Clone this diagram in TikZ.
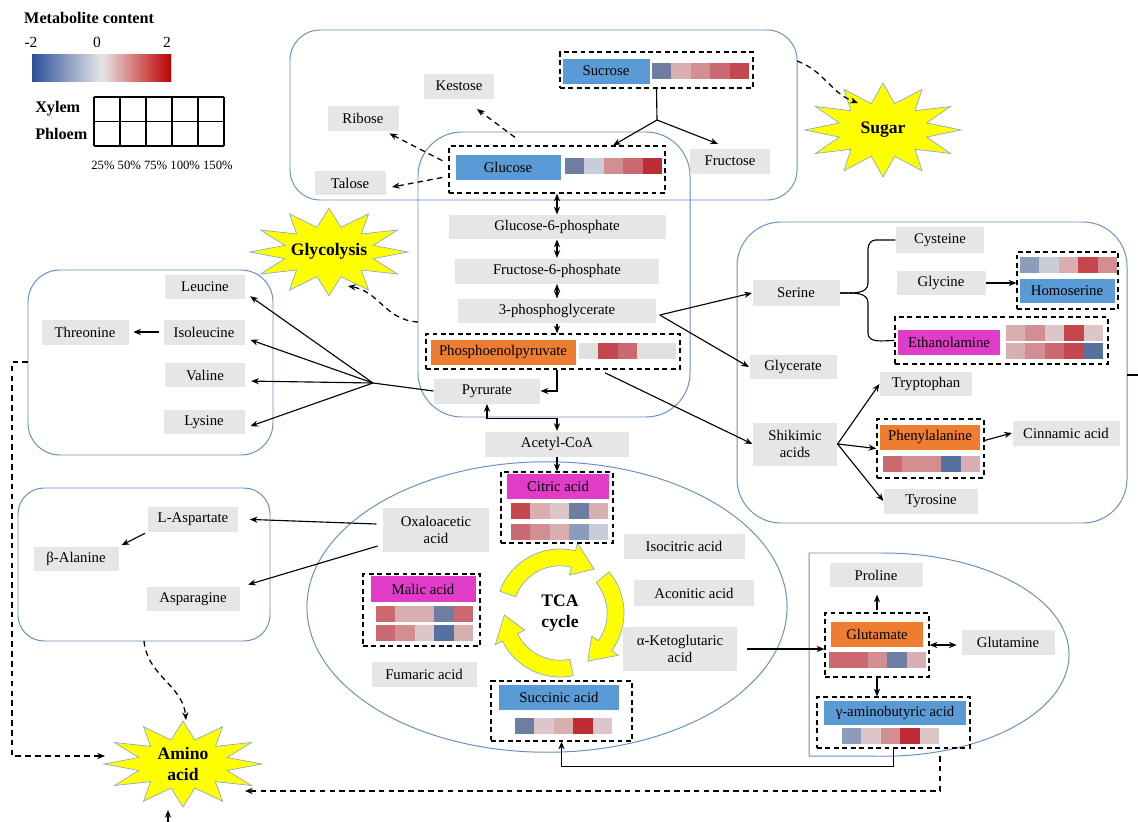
\documentclass[tikz,border=0pt]{standalone}
\usepackage{fontspec}
\setmainfont{Liberation Serif}
\usetikzlibrary{arrows.meta,calc}

\definecolor{boxgray}{HTML}{E7E6E6}
\definecolor{cblue}{HTML}{5B9BD5}
\definecolor{corange}{HTML}{ED7D31}
\definecolor{cmagenta}{HTML}{E03CC8}
\definecolor{regionline}{HTML}{6A8FC0}
\definecolor{burstyellow}{HTML}{FFFF00}
\definecolor{burstline}{HTML}{8EA8CF}
\definecolor{hmlow}{HTML}{2E4F9B}
\definecolor{hmzero}{HTML}{E6E6E6}
\definecolor{hmhigh}{HTML}{C00000}
\definecolor{hmA}{HTML}{BE2C33}
\definecolor{hmB}{HTML}{C3474D}
\definecolor{hmC}{HTML}{CA6A70}
\definecolor{hmD}{HTML}{D38E92}
\definecolor{hmE}{HTML}{D9AEB1}
\definecolor{hmF}{HTML}{DDC6C9}
\definecolor{hmG}{HTML}{E0E0E0}
\definecolor{hmH}{HTML}{C8CDD9}
\definecolor{hmI}{HTML}{8C9CBA}
\definecolor{hmJ}{HTML}{6E7DA2}
\definecolor{hmK}{HTML}{56709F}

\newcommand{\metfont}{\fontsize{10.5}{12.5}\selectfont}
\newcommand{\burstfont}{\fontsize{12.5}{15}\selectfont\bfseries}
\newcommand{\titlefont}{\fontsize{11.5}{13}\selectfont\bfseries}

% star burst: centre, x radius, y radius
\newcommand{\burst}[3]{%
  \filldraw[burst, shift={#1}] (#2,0)
    \foreach \k in {1,...,23}{
      -- ({#2*(1-0.42*mod(\k,2))*cos(\k*15)},{#3*(1-0.42*mod(\k,2))*sin(\k*15)}) } -- cycle;}
% one row of heat cells: x, y (top left), colours
\newcommand{\hmrow}[3]{%
  \foreach \c [count=\i from 0] in {#3}
    \fill[\c] ({#1+\i*19.4},#2) rectangle ++(19.4,16);}
% curved arrow of the TCA ring: start angle, tip angle
\newcommand{\tcaarrow}[2]{%
  \filldraw[ring] (#1:1.6cm) arc[start angle=#1, end angle=#2+24, radius=1.6cm]
    -- (#2+24:1.8cm) -- (#2:1.39cm) -- (#2+24:0.98cm) -- (#2+24:1.18cm)
    arc[start angle=#2+24, end angle=#1, radius=1.18cm] -- cycle;}

\begin{document}
\begin{tikzpicture}[x=0.025cm, y=-0.025cm, line width=0.8pt,
    >={Stealth[length=5.5pt,width=4.4pt]},
    met/.style={fill=boxgray, inner sep=1pt, font=\metfont, align=center},
    hiblue/.style={fill=cblue}, hiorange/.style={fill=corange}, himag/.style={fill=cmagenta},
    wpx/.style={minimum width={#1*0.025cm}},
    hpx/.style={minimum height={#1*0.025cm}},
    grp/.style={draw, dash pattern=on 3.5pt off 2.5pt, line width=0.9pt, inner sep=0pt},
    region/.style={draw=regionline, line width=0.7pt},
    dasharrow/.style={->, dash pattern=on 4pt off 3pt, line width=0.9pt},
    burst/.style={fill=burstyellow, draw=burstline, line width=0.5pt},
    ring/.style={fill=burstyellow, draw=burstline, line width=0.5pt},
    burstlabel/.style={font=\burstfont, align=center}]
\useasboundingbox (0,0) rectangle (1138,822);

% regions
\draw[region, rounded corners=0.75cm] (290,30) rectangle (797,200);
\draw[region, rounded corners=1.1cm] (418,132) rectangle (690,417);
\draw[region, rounded corners=1.1cm] (737,222) rectangle (1127,523);
\draw[region, rounded corners=0.8cm] (28,270) rectangle (273,455);
\draw[region, rounded corners=0.65cm] (18,488) rectangle (270,641);
\draw[region] (547,607) ellipse [x radius=6cm, y radius=3.63cm];
\draw[region] (883,553) arc[start angle=90, end angle=-90, x radius=4.65cm, y radius=2.54cm]
  -- (809,756) -- (809,553) -- cycle;

% bursts
\burst{(883,130)}{78}{47}
\burst{(329,252)}{79}{44}
\burst{(183,764)}{79}{43}
\node[burstlabel] (sugar) at (883,130) {Sugar};
\node[burstlabel] (glycolysis) at (329,251) {Glycolysis};
\node[burstlabel] (amino) at (183,764) {Amino\\acid};

% legend
\node[font=\titlefont, anchor=west] (legend-title) at (19,18) {Metabolite content};
\node[font=\fontsize{11}{13}\selectfont] (scale-min) at (31,42) {-2};
\node[font=\fontsize{11}{13}\selectfont] (scale-mid) at (97,42) {0};
\node[font=\fontsize{11}{13}\selectfont] (scale-max) at (167,42) {2};
\shade[left color=hmlow, right color=hmhigh, middle color=hmzero] (32,54) rectangle (171,81);
\node[font=\titlefont, anchor=west] (xylem) at (30,109) {Xylem};
\node[font=\titlefont, anchor=west] (phloem) at (30,134) {Phloem};
\foreach \i in {0,...,5} \draw (94+\i*26,97) -- (94+\i*26,146);
\foreach \j in {97,121.5,146} \draw (94,\j) -- (224,\j);
\node[font=\fontsize{9}{11}\selectfont] (pct) at (162,165) {25\% 50\% 75\% 100\% 150\%};

% sugars
\node[met, hiblue, wpx=87, hpx=25] (sucrose) at (606,71) {Sucrose};
\node[met, hiblue, wpx=105, hpx=25] (glucose) at (508,167) {Glucose};
\node[met, wpx=70, hpx=25] (kestose) at (459,86) {Kestose};
\node[met, wpx=71, hpx=25] (ribose) at (363,118) {Ribose};
\node[met, wpx=71, hpx=24] (talose) at (350,183) {Talose};
\node[met, wpx=80, hpx=25] (fructose) at (730,161) {Fructose};
\node[grp, wpx=193, hpx=36] (sucrose-grp) at (656.5,70) {};
\node[grp, wpx=216, hpx=47] (glucose-grp) at (557,169.5) {};
\hmrow{652}{63}{hmJ,hmE,hmD,hmC,hmB}
\hmrow{565}{158}{hmJ,hmH,hmD,hmC,hmA}

% glycolysis
\node[met, wpx=217, hpx=24] (g6p) at (557,227) {Glucose-6-phosphate};
\node[met, wpx=204, hpx=25] (f6p) at (557,271) {Fructose-6-phosphate};
\node[met, wpx=198, hpx=24] (pga) at (557,311) {3-phosphoglycerate};
\node[met, hiorange, wpx=145, hpx=25] (pep) at (503,352) {Phosphoenolpyruvate};
\node[grp, wpx=254, hpx=35] (pep-grp) at (553,351.5) {};
\hmrow{579}{343}{hmG,hmB,hmC,hmG,hmG}
\node[met, wpx=106, hpx=25] (pyr) at (487,391) {Pyrurate};
\node[met, wpx=144, hpx=25] (acoa) at (557,444) {Acetyl-CoA};

% branched chain amino acids
\node[met, wpx=80, hpx=24] (leucine) at (205,287) {Leucine};
\node[met, wpx=81, hpx=25] (isoleucine) at (204,332) {Isoleucine};
\node[met, wpx=87, hpx=25] (threonine) at (85,332) {Threonine};
\node[met, wpx=80, hpx=24] (valine) at (205,375) {Valine};
\node[met, wpx=81, hpx=24] (lysine) at (204,422) {Lysine};

% aspartate family
\node[met, wpx=90, hpx=25] (lasp) at (193,519) {L-Aspartate};
\node[met, wpx=85, hpx=24] (balan) at (76,559) {β-Alanine};
\node[met, wpx=93, hpx=24] (aspar) at (193,599) {Asparagine};

% TCA cycle
\begin{scope}[shift={(560,613)}]
  \tcaarrow{160}{52}
  \tcaarrow{40}{-60}
  \tcaarrow{-78}{-178}
\end{scope}
\node[burstlabel] (tca) at (560,613) {TCA\\cycle};
\node[met, himag, wpx=102, hpx=25] (citric) at (558,486) {Citric acid};
\node[grp, wpx=112, hpx=71] (citric-grp) at (557,507.5) {};
\hmrow{511}{503}{hmB,hmE,hmF,hmJ,hmE}
\hmrow{511}{524}{hmC,hmD,hmE,hmI,hmH}
\node[met, wpx=106, hpx=44] (oaa) at (436,530) {Oxaloacetic\\acid};
\node[met, wpx=121, hpx=25] (iso) at (684,546) {Isocitric acid};
\node[met, wpx=120, hpx=26] (aco) at (694,593) {Aconitic acid};
\node[met, wpx=114, hpx=44] (akg) at (680,649) {α-Ketoglutaric\\acid};
\node[met, himag, wpx=105, hpx=26] (malic) at (423,589) {Malic acid};
\node[grp, wpx=117, hpx=72] (malic-grp) at (421.5,610) {};
\hmrow{376}{606}{hmC,hmE,hmE,hmJ,hmC}
\hmrow{376}{625}{hmC,hmD,hmF,hmK,hmE}
\node[met, wpx=105, hpx=25] (fum) at (424,674) {Fumaric acid};
\node[met, hiblue, wpx=120, hpx=25] (succ) at (559,697) {Succinic acid};
\node[grp, wpx=141, hpx=60] (succinic-grp) at (561.5,711) {};
\hmrow{515}{718}{hmJ,hmF,hmE,hmA,hmF}

% glutamate family
\node[met, wpx=93, hpx=24] (proline) at (876,575) {Proline};
\node[met, hiorange, wpx=92, hpx=25] (glutamate) at (877,634) {Glutamate};
\node[grp, wpx=104, hpx=64] (glutamate-grp) at (877,645) {};
\hmrow{829}{652}{hmC,hmC,hmD,hmJ,hmE}
\node[met, wpx=93, hpx=25] (glutamine) at (1008,642) {Glutamine};
\node[met, hiblue, wpx=142, hpx=24] (gaba) at (895,713) {γ-aminobutyric acid};
\node[grp, wpx=153, hpx=51] (gaba-grp) at (893.5,722.5) {};
\hmrow{842}{728}{hmI,hmF,hmD,hmA,hmF}

% serine and shikimate
\node[met, wpx=87, hpx=26] (serine) at (796,293) {Serine};
\node[met, wpx=88, hpx=26] (cysteine) at (940,240) {Cysteine};
\node[met, wpx=89, hpx=24] (glycine) at (941,283) {Glycine};
\node[met, hiblue, wpx=95, hpx=24] (homoserine) at (1067,291) {Homoserine};
\node[grp, wpx=101, hpx=57] (homoserine-grp) at (1067.5,280.5) {};
\hmrow{1020}{257}{hmI,hmH,hmE,hmB,hmD}
\node[met, himag, wpx=102, hpx=25] (ethanolamine) at (949,342) {Ethanolamine};
\node[grp, wpx=213, hpx=47] (ethanolamine-grp) at (1001.5,340.5) {};
\hmrow{1006}{325}{hmE,hmD,hmF,hmB,hmF}
\hmrow{1006}{343}{hmE,hmD,hmC,hmB,hmK}
\node[met, wpx=87, hpx=24] (glycerate) at (793,367) {Glycerate};
\node[met, wpx=84, hpx=43] (shikimic) at (795,444) {Shikimic\\acids};
\node[met, wpx=92, hpx=24] (tryptophan) at (926,384) {Tryptophan};
\node[met, hiorange, wpx=100, hpx=25] (phenylalanine) at (930,437) {Phenylalanine};
\node[grp, wpx=107, hpx=59] (phenylalanine-grp) at (930.5,448.5) {};
\hmrow{883}{456}{hmC,hmD,hmD,hmK,hmE}
\node[met, wpx=107, hpx=25] (cinnamic) at (1066,433) {Cinnamic acid};
\node[met, wpx=94, hpx=25] (tyrosine) at (931,501) {Tyrosine};

% connectors: sugars
\coordinate (sugar-split) at (657,120);
\draw (sucrose-grp.south) -- (sugar-split);
\draw[->] (sugar-split) -- ([xshift=1.4cm]glucose-grp.north);
\draw[->] (sugar-split) -- ([xshift=-0.3cm,yshift=0.1cm]fructose.north);
\draw[dasharrow] ([xshift=-1.05cm,yshift=0.2cm]glucose-grp.north) -- ([xshift=0.45cm,yshift=-0.25cm]kestose.south);
\draw[dasharrow] ([xshift=-0.15cm,yshift=0.22cm]glucose-grp.west) -- ([xshift=-0.24cm,yshift=-0.06cm]ribose.south east);
\draw[dasharrow] ([xshift=-0.15cm,yshift=-0.2cm]glucose-grp.west) -- ([xshift=0.15cm,yshift=-0.1cm]talose.east);
\coordinate (sugar-box-e) at (797,61);
\draw[dasharrow] (sugar-box-e) to[out=-20,in=160] ($(sugar)+(-25,-27)$);

% connectors: glycolysis
\draw[<->] (glucose-grp.south) -- (glucose-grp.south |- g6p.north);
\draw[<->] (g6p.south) -- (f6p.north);
\draw[<->] (f6p.south) -- (pga.north);
\draw[->] (pga.south) -- (pga.south |- pep-grp.north);
\draw[->] (pga.south |- pep-grp.south) |- (pyr.east);
\draw[<->] (pyr.south) -- ++(0,14) -| (acoa.north);
\draw[->] (acoa.south) -- (acoa.south |- citric-grp.north);
\coordinate (glyc-box-w) at (418,322);
\draw[dasharrow] (glyc-box-w) .. controls (385,320) and (380,292) .. ($(glycolysis)+(19,35)$);
\draw[->] ([xshift=0.08cm,yshift=-0.1cm]pga.east) -- (serine.west);
\draw[->] ([xshift=0.08cm,yshift=-0.1cm]pga.east) -- (glycerate.west);
\draw[->] ([xshift=1.3cm,yshift=-0.08cm]pep-grp.south) -- (shikimic.west);

% connectors: amino acids
\coordinate (aa-fork) at (373,383);
\draw (pyr.west) -- (aa-fork);
\foreach \t in {leucine,isoleucine,valine,lysine}
  \draw[->, shorten >=4pt] (aa-fork) -- ([yshift=-0.15cm]\t.east);
\draw[->, shorten <=3pt, shorten >=3pt] (isoleucine.west) -- (threonine.east);
\coordinate (aa-box-w) at (28,362);
\draw[dasharrow] (aa-box-w) -- ++(-16,0) |- ($(amino)+(-78,-8)$);
\draw[->, shorten >=8pt] ([xshift=-0.15cm,yshift=0.15cm]oaa.west) -- (lasp.east);
\draw[->, shorten >=6pt] ([xshift=-0.12cm,yshift=-0.4cm]oaa.west) -- ([yshift=0.3cm]aspar.east);
\draw[->, shorten <=2pt, shorten >=2pt] (lasp.south west) -- (balan.north east);
\coordinate (asp-box-s) at (144,641);
\draw[dasharrow] (asp-box-s) to[out=-85,in=95] ($(amino)+(3,-44)$);
\coordinate (glu-region-s) at (940,756);
\draw[dasharrow] (glu-region-s) |- ($(amino)+(62,27)$);
\coordinate (page-bottom) at (168,822);
\draw[dasharrow] (page-bottom) -- ($(amino)+(-15,46)$);

% connectors: TCA and glutamate
\draw[->, shorten <=7pt] (akg.east) -- (akg.east -| glutamate-grp.west);
\draw[->, shorten <=2pt, shorten >=5pt] (glutamate-grp.north) -- (glutamate-grp.north |- proline.south);
\draw[<->, shorten >=3pt] (glutamate-grp.east) -- (glutamate-grp.east -| glutamine.west);
\draw[->] (glutamate-grp.south) -- (glutamate-grp.south |- gaba-grp.north);
\draw[->] (gaba-grp.south) -- ++(0,18) -| (succinic-grp.south);

% connectors: serine and shikimate
\draw[->] (glycine.east) -- (glycine.east -| homoserine-grp.west);
\coordinate (brace-mid) at (868,293);
\draw (cysteine.west) -- ++(-20,0) to[out=180,in=90] ($(brace-mid)+(0,-44)$)
  -- ($(brace-mid)+(0,-10)$) to[out=-90,in=0] (serine.east);
\draw (serine.east) to[out=0,in=90] ($(brace-mid)+(0,10)$)
  -- ($(brace-mid)+(0,40)$) to[out=-90,in=180] (ethanolamine-grp.west);
\draw[->] (shikimic.east) -- (tryptophan.west);
\draw[->] (shikimic.east) -- (phenylalanine-grp.west);
\draw[->] (shikimic.east) -- (tyrosine.west);
\draw[->] ([yshift=0.2cm]phenylalanine-grp.east) -- (cinnamic.west);
\coordinate (right-box-e) at (1127,375);
\coordinate (page-right) at (1138,375);
\draw (right-box-e) -- (page-right);
\end{tikzpicture}
\end{document}
